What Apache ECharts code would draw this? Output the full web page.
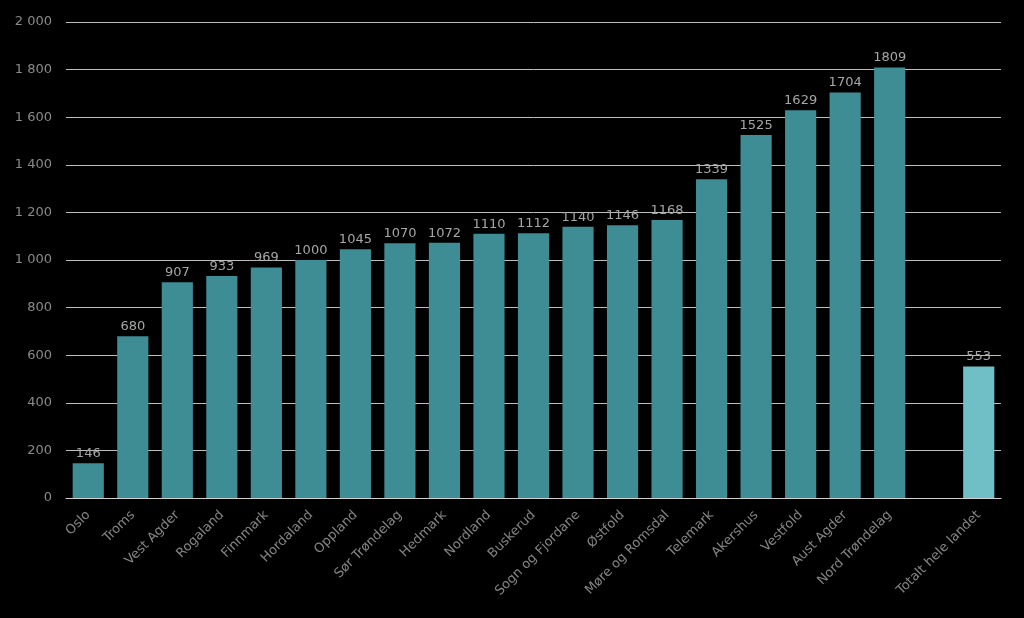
<!DOCTYPE html>
<html><head><meta charset="utf-8">
<script src="https://cdn.jsdelivr.net/npm/echarts@6/dist/echarts.min.js"></script>
<style>html,body{margin:0;padding:0;background:#000;}#c{width:1024px;height:618px;}</style>
</head><body><div id="c"></div>
<script>
const categories = ['Oslo','Troms','Vest Agder','Rogaland','Finnmark','Hordaland','Oppland','Sør Trøndelag','Hedmark','Nordland','Buskerud','Sogn og Fjordane','Østfold','Møre og Romsdal','Telemark','Akershus','Vestfold','Aust Agder','Nord Trøndelag','','Totalt hele landet'];
const values = [146,680,907,933,969,1000,1045,1070,1072,1110,1112,1140,1146,1168,1339,1525,1629,1704,1809,null,553];
const highlightCategory = 'Totalt hele landet';

const chart = echarts.init(document.getElementById('c'));
const fmt = v => String(v).replace(/\B(?=(\d{3})+(?!\d))/g, ' ');
chart.setOption({
  backgroundColor: '#000',
  animation: false,
  grid: {left: 66, right: 23, top: 22, bottom: 120, containLabel: false},
  xAxis: {
    type: 'category', data: categories,
    axisTick: {show: false},
    axisLine: {lineStyle: {color: '#d0d0d0', width: 1}},
    axisLabel: {rotate: 45, color: '#858585', fontFamily: 'DejaVu Sans', fontSize: 13, interval: 0, margin: 15}
  },
  yAxis: {
    type: 'value', min: 0, max: 2000, interval: 200,
    axisLine: {show: false}, axisTick: {show: false},
    splitLine: {lineStyle: {color: '#bdbdbd', width: 1}},
    axisLabel: {color: '#8a8a8a', fontFamily: 'DejaVu Sans', fontSize: 13, formatter: fmt, margin: 14}
  },
  series: [{
    type: 'bar', barCategoryGap: '30%',
    data: values.map((v, i) => ({
      value: v,
      itemStyle: {color: categories[i] === highlightCategory ? '#70bfc6' : '#3e8d94'}
    })),
    label: {show: true, position: 'top', distance: 3, color: '#a6a6a6', fontFamily: 'DejaVu Sans', fontSize: 13}
  }]
});
</script></body></html>
